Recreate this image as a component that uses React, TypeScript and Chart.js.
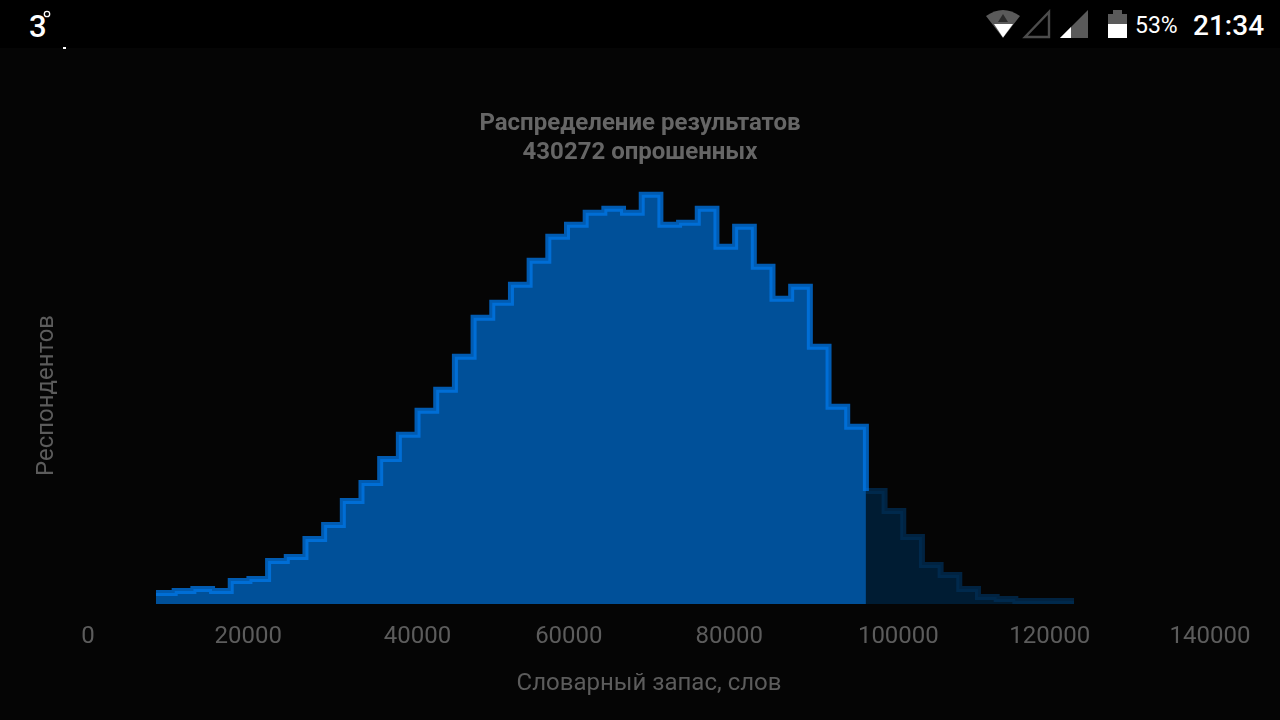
import React, { useEffect, useRef } from "react";
import { Chart, registerables } from "chart.js";

Chart.register(...registerables);

const titleLines = ["Распределение результатов", "430272 опрошенных"];
const xAxisTitle = "Словарный запас, слов";
const yAxisTitle = "Респондентов";
const xTicks = [0, 20000, 40000, 60000, 80000, 100000, 120000, 140000];
const nudgedTicks = [40000, 100000];

// Left edge of each bin (words), with the closing edge at the end
const binEdges = [
  8485, 10816, 13147, 15478, 17809, 20140, 22471, 24802, 27133, 29464,
  31795, 34126, 36457, 38788, 41119, 43450, 45781, 48112, 50443, 52774,
  55105, 57436, 59767, 62098, 64429, 66760, 69091, 71422, 73753, 76084,
  78415, 80746, 83077, 85408, 87739, 90070, 92401, 94732, 97063, 99394,
  101725, 104056, 106387, 108718, 111049, 113380, 115711, 118042, 120373, 123030,
];
// Respondents in each bin
const respondents = [
  528, 624, 720, 624, 1104, 1200, 2064, 2256, 3120, 3792,
  4944, 5808, 6960, 8112, 9264, 10272, 11856, 13728, 14448, 15312,
  16464, 17616, 18192, 18768, 18960, 18768, 19632, 18192, 18288, 18960,
  17136, 18096, 16176, 14640, 15216, 12336, 9456, 8496, 5424, 4464,
  3216, 1872, 1392, 720, 336, 240, 144, 144, 144, 144,
];
const splitIndex = 38; // first bin of the darker part

const points = binEdges.map((x, i) => ({ x, y: respondents[i] }));
const reachedPoints = points.slice(0, splitIndex + 1);
const restPoints = points.slice(splitIndex);

const GREY = "#5c5c5c";

function StatusBar() {
  const text = (style: React.CSSProperties, s: string) => (
    <span style={{ position: "absolute", color: "#fff", fontFamily: "Roboto", lineHeight: 1, ...style }}>{s}</span>
  );
  return (
    <div style={{ position: "absolute", left: 0, top: 0, width: 1280, height: 48, background: "#000" }}>
      {text({ left: 29, top: 11, fontSize: 31, fontWeight: 500 }, "3")}
      <svg width={1280} height={50} style={{ position: "absolute", left: 0, top: 0 }}>
        <circle cx={47} cy={14} r={2.7} fill="none" stroke="#fff" strokeWidth={1.3} />
        <rect x={63} y={47} width={3} height={2} fill="#fff" />
        <path d="M986 16 Q1003 4 1020 16 L1003 38 Z" fill="#5a5a5a" />
        <path d="M994 24 H1013 L1003 37.5 Z" fill="#fff" />
        <path d="M1003 14 L1008 22 H998 Z" fill="#2a2a2a" />
        <path d="M1049 12 V37 H1025 Z" fill="none" stroke="#4c4c4c" strokeWidth={2.4} />
        <path d="M1088 10 V38 H1060 Z" fill="#5a5a5a" />
        <path d="M1071 27 V38 H1060 Z" fill="#fff" />
        <path d="M1108 14 H1113 V10 H1122 V14 H1127 V38 H1108 Z" fill="#5a5a5a" />
        <rect x={1108} y={24} width={19} height={14} fill="#fff" />
      </svg>
      {text({ left: 1135, top: 14, fontSize: 23 }, "53%")}
      {text({ left: 1193, top: 12, fontSize: 28, fontWeight: 500 }, "21:34")}
    </div>
  );
}

export default function App() {
  const ref = useRef<HTMLCanvasElement | null>(null);

  useEffect(() => {
    document.body.style.margin = "0";
    document.body.style.background = "#050505";
    const chart = new Chart(ref.current!, {
      type: "line",
      data: {
        datasets: [
          {
            data: reachedPoints,
            stepped: "before",
            fill: "origin",
            backgroundColor: "rgb(0,80,153)",
            borderColor: "rgba(0,120,235,0.75)",
            borderWidth: 6,
            pointRadius: 0,
            clip: false,
          },
          {
            data: restPoints,
            stepped: "before",
            fill: "origin",
            backgroundColor: "rgb(0,28,51)",
            borderColor: "rgba(0,46,86,0.75)",
            borderWidth: 6,
            pointRadius: 0,
            clip: false,
          },
        ],
      },
      options: {
        animation: false,
        responsive: false,
        layout: { padding: 0 },
        plugins: {
          legend: { display: false },
          tooltip: { enabled: false },
          title: {
            display: true,
            text: titleLines,
            color: "#666666",
            font: { family: "Roboto", size: 24, weight: "bold", lineHeight: 1.208 },
            padding: { top: 110, bottom: 19 },
          },
        },
        scales: {
          x: {
            type: "linear",
            min: 0,
            max: 140000,
            afterBuildTicks: (scale: any) => {
              scale.ticks = xTicks.map((value) => ({ value }));
            },
            afterFit: (scale: any) => {
              scale.height = 116;
            },
            grid: { display: false, drawTicks: false },
            border: { display: false },
            ticks: {
              color: GREY,
              font: { family: "Roboto", size: 24 },
              padding: 19,
              maxRotation: 0,
              autoSkip: false,
              callback: (v: number) => (nudgedTicks.includes(v) ? "   " : "") + String(v),
            },
            title: {
              display: true,
              text: xAxisTitle,
              color: GREY,
              font: { family: "Roboto", size: 24 },
              padding: { top: 0, bottom: 22 },
            },
          },
          y: {
            type: "linear",
            min: 0,
            max: 20000,
            afterFit: (scale: any) => {
              scale.width = 88;
            },
            grid: { display: false, drawTicks: false },
            border: { display: false },
            ticks: { display: false },
            title: {
              display: true,
              text: yAxisTitle,
              color: GREY,
              font: { family: "Roboto", size: 24 },
              padding: { top: 33, bottom: 0 },
            },
          },
          rightGutter: {
            type: "linear",
            position: "right",
            display: true,
            afterFit: (scale: any) => {
              scale.width = 70;
            },
            grid: { display: false, drawTicks: false },
            border: { display: false },
            ticks: { display: false },
          },
        },
      },
    } as any);
    return () => chart.destroy();
  }, []);

  return (
    <div style={{ position: "absolute", left: 0, top: 0, width: 1280, height: 720, background: "#050505", overflow: "hidden" }}>
      <canvas ref={ref} width={1280} height={720} style={{ display: "block" }} />
      <StatusBar />
    </div>
  );
}
